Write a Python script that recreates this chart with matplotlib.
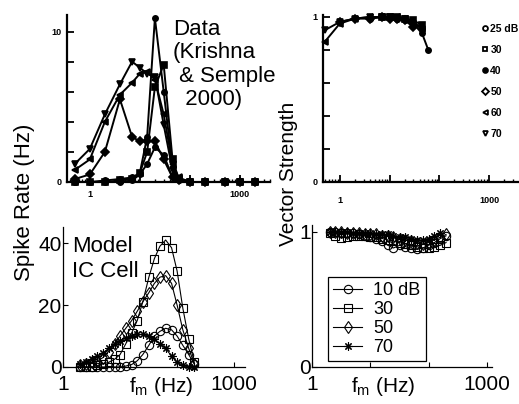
import numpy as np
import matplotlib
matplotlib.use('Agg')
import matplotlib.pyplot as plt
from matplotlib.lines import Line2D

plt.rcParams['font.family'] = ['Liberation Sans', 'DejaVu Sans']
plt.rcParams['mathtext.fontset'] = 'custom'
plt.rcParams['mathtext.rm'] = 'Liberation Sans'

nan = np.nan

# --- data panels (Krishna & Semple 2000) ---
fm_data = [0.5, 1, 2, 4, 7, 10, 14, 20, 30, 45, 60, 100, 200, 500, 1000, 2000]
data_levels = ['25 dB', '30', '40', '50', '60', '70']
rate25 = [0, 0, 0, 0, 0.1, 0.5, 1.2, 2.3, 1.8, 0.3, 0.1, 0, 0, 0, 0, 0]
rate30 = [0, 0, 0, 0.1, 0.2, 0.6, 2.0, 6.3, 7.8, 1.5, 0.2, 0, 0, 0, 0, 0]
rate40 = [0, 0, 0.1, 0.2, 0.3, 0.6, 3.0, 10.9, 6.0, 1.0, 0.2, 0, 0, 0, 0, 0]
rate50 = [0.2, 0.5, 2.0, 5.5, 3.0, 2.7, 2.7, 2.7, 1.5, 0.3, 0.1, 0, 0, 0, 0, 0]
rate60 = [0.8, 1.5, 4.0, 5.8, 6.6, 7.2, 7.3, 6.8, 4.5, 1.2, 0.3, 0, 0, 0, 0, 0]
rate70 = [1.2, 2.2, 4.5, 6.5, 8.0, 7.6, 7.2, 7.0, 3.8, 0.8, 0.2, 0, 0, 0, 0, 0]

vs25 = [nan, nan, nan, nan, nan, 1.0, 0.99, 0.98, 0.96, 0.90, 0.80, nan, nan, nan, nan, nan]
vs30 = [nan, nan, nan, nan, 1.0, 1.0, 1.0, 0.99, 0.98, 0.95, nan, nan, nan, nan, nan, nan]
vs40 = [nan, nan, nan, 0.99, 1.0, 1.0, 0.99, 0.99, 0.97, 0.93, nan, nan, nan, nan, nan, nan]
vs50 = [nan, 0.97, 0.99, 0.99, 1.0, 0.99, 0.99, 0.98, 0.94, nan, nan, nan, nan, nan, nan, nan]
vs60 = [0.85, 0.96, 0.99, 1.0, 1.0, 1.0, 1.0, 0.99, 0.96, 0.93, nan, nan, nan, nan, nan, nan]
vs70 = [0.92, 0.97, 0.99, 1.0, 1.0, 1.0, 0.99, 0.99, 0.95, nan, nan, nan, nan, nan, nan, nan]

# --- model IC cell ---
fm_model = [2, 2.5, 3.2, 4, 5, 6.3, 8, 10, 12.6, 16, 20, 25, 32, 40, 50, 63, 80, 100, 126, 160, 200]
model_levels = ['10 dB', '30', '50', '70']
mrate10 = [0, 0, 0, 0, 0, 0, 0, 0, 0.3, 0.8, 2, 4, 7, 10, 11.5, 12.5, 12, 10, 7, 4, 1]
mrate30 = [0, 0, 0, 0.5, 1, 1.5, 2.5, 4, 7.5, 11, 15, 21, 29, 35, 39, 41, 38.5, 31, 19, 9, 1.5]
mrate50 = [0.5, 1, 1.5, 2, 3, 5, 7.5, 10, 12.5, 15, 18, 21, 24, 27, 29, 29.5, 27, 20, 12, 6, 1]
mrate70 = [1, 1.5, 2.5, 3.5, 4.5, 6, 7.5, 8.5, 9.5, 10, 10.5, 10.5, 10, 9, 7.5, 6, 3.5, 1.5, 0.5, 0, 0]

mvs10 = [1, 1, 0.99, 0.99, 0.99, 0.98, 0.97, 0.96, 0.95, 0.93, 0.9, 0.88, 0.9, 0.89, 0.88, 0.87, 0.88, 0.9, 0.92, 0.95, 0.97]
mvs30 = [0.99, 0.97, 0.955, 0.96, 0.97, 0.97, 0.97, 0.96, 0.96, 0.95, 0.94, 0.93, 0.92, 0.91, 0.9, 0.89, 0.88, 0.88, 0.89, 0.9, 0.92]
mvs50 = [1, 1, 1, 0.99, 0.99, 0.99, 0.98, 0.98, 0.98, 0.97, 0.97, 0.96, 0.95, 0.94, 0.93, 0.92, 0.91, 0.92, 0.94, 0.96, 0.98]
mvs70 = [1, 1, 1, 1, 0.99, 0.99, 0.99, 0.99, 0.98, 0.98, 0.98, 0.97, 0.96, 0.96, 0.95, 0.94, 0.94, 0.95, 0.97, 0.99, nan]

W, H = 519, 404
fig = plt.figure(figsize=(W / 100, H / 100), dpi=100)


def box(x0, y0, x1, y1):
    # pixel box -> figure fraction
    return [x0 / W, 1 - y1 / H, (x1 - x0) / W, (y1 - y0) / H]


ax_tl = fig.add_axes(box(67, 15, 270, 182))
ax_tr = fig.add_axes(box(323, 15, 518, 182))
ax_bl = fig.add_axes(box(63, 227, 245, 367))
ax_br = fig.add_axes(box(312, 225, 492, 367))

narrow = ['Liberation Sans Narrow', 'Liberation Sans', 'DejaVu Sans']
data_marks = ['o', 's', 'o', 'D', '<', 'v']
data_fill = ['white', 'white', 'black', 'white', 'white', 'white']
data_rates = [rate25, rate30, rate40, rate50, rate60, rate70]
data_vs = [vs25, vs30, vs40, vs50, vs60, vs70]

for r, v, m in zip(data_rates, data_vs, data_marks):
    ax_tl.plot(fm_data, r, color='black', lw=1.4, marker=m, ms=3.8,
               mfc='black', mec='black', mew=1.2, clip_on=False)
    ax_tr.plot(fm_data, v, color='black', lw=1.4, marker=m, ms=3.8,
               mfc='black', mec='black', mew=1.2, clip_on=False)

for ax in (ax_tl, ax_tr):
    ax.set_xscale('log')
    for s in ('top', 'right'):
        ax.spines[s].set_visible(False)
    for s in ('left', 'bottom'):
        ax.spines[s].set_linewidth(1.6)
    ax.tick_params(which='major', direction='in', length=5, width=1.3, pad=4)
    ax.tick_params(which='minor', direction='in', length=2.5, width=1.0)
    ax.set_xticks([1, 10, 100, 1000])
    ax.set_xticklabels(['1', '', '', '1000'])
    for lab in ax.get_xticklabels() + ax.get_yticklabels():
        lab.set_family(narrow)
        lab.set_fontweight('bold')
        lab.set_fontsize(6.5)

ax_tl.set_xlim(0.35, 4000)
ax_tl.set_ylim(0, 11.1)
ax_tl.set_yticks([0, 2, 4, 6, 8, 10])
ax_tl.set_yticklabels(['0', '', '', '', '', '10'], family=narrow, fontweight='bold', fontsize=6.5)
ax_tl.tick_params(axis='x', pad=6)

ax_tr.set_xlim(0.46, 3800)
ax_tr.set_ylim(0, 1.012)
ax_tr.set_yticks([0, 0.2, 0.4, 0.6, 0.8, 1.0])
ax_tr.set_yticklabels(['0', '', '', '', '', '1'], family=narrow, fontweight='bold', fontsize=6.5)
ax_tr.tick_params(axis='x', pad=10)

fig.text(173 / W, 1 - 19 / H, 'Data\n(Krishna\n & Semple\n  2000)', fontsize=16,
         va='top', ha='left', linespacing=1.15)

handles = [Line2D([], [], ls='none', marker=m, ms=3.5, mfc=fc, mec='black', mew=1.3)
           for m, fc in zip(data_marks, data_fill)]
fig.legend(handles, data_levels, loc='upper left', bbox_to_anchor=(482 / W, 1 - 24 / H),
           frameon=False, handlelength=0.5, handletextpad=0.3, labelspacing=1.05,
           borderpad=0, borderaxespad=0,
           prop={'family': narrow, 'weight': 'bold', 'size': 7.5})

# --- model panels ---
model_marks = ['o', 's', 'd', (8, 2, 0)]
model_rates = [mrate10, mrate30, mrate50, mrate70]
model_vs = [mvs10, mvs30, mvs50, mvs70]
for r, v, m in zip(model_rates, model_vs, model_marks):
    ax_bl.plot(fm_model, r, color='black', lw=0.8, marker=m, ms=6, mfc='none',
               mec='black', mew=0.8, clip_on=False)
    ax_br.plot(fm_model, v, color='black', lw=0.8, marker=m, ms=6, mfc='none',
               mec='black', mew=0.8, clip_on=False)

for ax in (ax_bl, ax_br):
    ax.set_xscale('log')
    for s in ('top', 'right'):
        ax.spines[s].set_visible(False)
    for s in ('left', 'bottom'):
        ax.spines[s].set_linewidth(0.9)
    ax.tick_params(which='major', direction='in', length=3.5, width=0.8, labelsize=15, pad=6)
    ax.tick_params(which='minor', length=0)
    ax.set_xticks([1, 10, 100, 1000])
    ax.set_xticklabels(['1', '', '', '1000'])
    ax.tick_params(axis='y', pad=1)

ax_bl.set_xlim(1, 1550)
ax_bl.set_ylim(0, 45.2)
ax_bl.set_yticks([0, 20, 40])
ax_br.set_xlim(1, 1230)
ax_br.set_ylim(0, 1.05)
ax_br.set_yticks([0, 1])

fig.text(72 / W, 1 - 236 / H, 'Model\nIC Cell', fontsize=16, va='top', ha='left', linespacing=1.25)

mhandles = [Line2D([], [], color='black', lw=0.8, marker=m, ms=6, mfc='none', mec='black', mew=0.8)
            for m in model_marks]
leg = ax_br.legend(mhandles, model_levels, loc='upper left', bbox_to_anchor=(328 / W, 1 - 277 / H),
                   bbox_transform=fig.transFigure, fontsize=13, frameon=True, fancybox=False,
                   edgecolor='black', framealpha=1, handlelength=1.6, handletextpad=0.6,
                   labelspacing=0.1, borderpad=0.3, borderaxespad=0)
leg.get_frame().set_linewidth(0.9)

# axis labels
fig.text(25 / W, 1 - 202 / H, 'Spike Rate (Hz)', rotation=90, fontsize=16, ha='center', va='center')
fig.text(289 / W, 1 - 174 / H, 'Vector Strength', rotation=90, fontsize=15, ha='center', va='center')
fig.text(161 / W, 1 - 387 / H, r'$\mathregular{f_m}$ (Hz)', fontsize=15, ha='center', va='center')
fig.text(383 / W, 1 - 387 / H, r'$\mathregular{f_m}$ (Hz)', fontsize=15, ha='center', va='center')

fig.savefig('out.png', dpi=100)
